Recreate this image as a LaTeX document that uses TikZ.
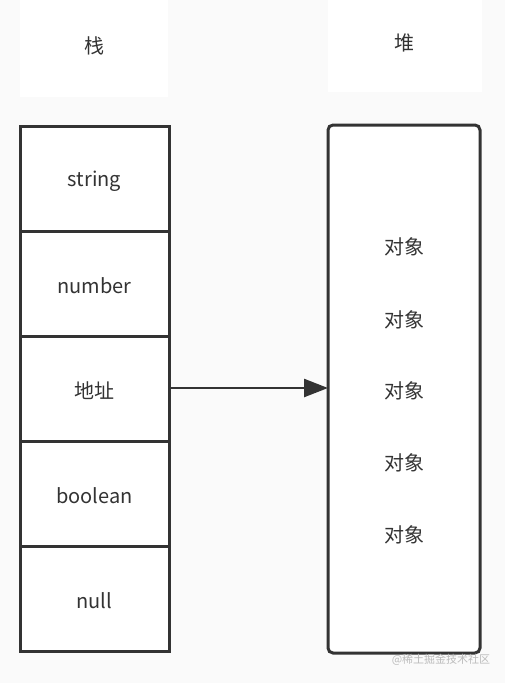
\documentclass[tikz,border=0pt]{standalone}
\usepackage{fontspec}
\setmainfont{Noto Sans CJK SC}
\usetikzlibrary{arrows.meta}
\definecolor{bg}{HTML}{FAFAFA}
\definecolor{ink}{HTML}{333333}
\definecolor{wm}{HTML}{BBBBBB}
\begin{document}
\begin{tikzpicture}[x=1pt,y=-1pt,
  txt/.style={text=ink,font=\fontsize{20}{22}\selectfont,inner sep=0pt},
  cell/.style={draw=ink,line width=3pt,fill=white}]
\fill[bg] (0,0) rectangle (505,683);
\useasboundingbox (0,0) rectangle (505,683);
% title boxes
\fill[white] (20,0) rectangle (168,97);
\fill[white] (328,0) rectangle (482,92);
\node[txt] (zhan) at (94,46) {栈};
\node[txt] (dui) at (404,43) {堆};
% stack cells
\foreach \i/\t in {0/string,1/number,2/地址,3/boolean,4/null}{
  \draw[cell] (20,{126+105*\i}) rectangle (169,{231+105*\i});
  \node[txt] (c\i) at (94.5,{181+105*\i}) {\t};
}
\coordinate (cR) at (169,388);
% heap
\draw[cell,rounded corners=5pt] (328,125) rectangle (480,653);
\coordinate (hL) at (328,388);
\foreach \i/\y in {1/247,2/320,3/391,4/463,5/535}{
  \node[txt] (o\i) at (404,\y) {对象};
}
\draw[ink,line width=2.5pt,-{Triangle[length=24pt,width=18pt]}] (cR) -- (hL);
\node[text=wm,font=\fontsize{11}{12}\selectfont,inner sep=0pt] (wmk) at (441,660) {@稀土掘金技术社区};
\end{tikzpicture}
\end{document}
